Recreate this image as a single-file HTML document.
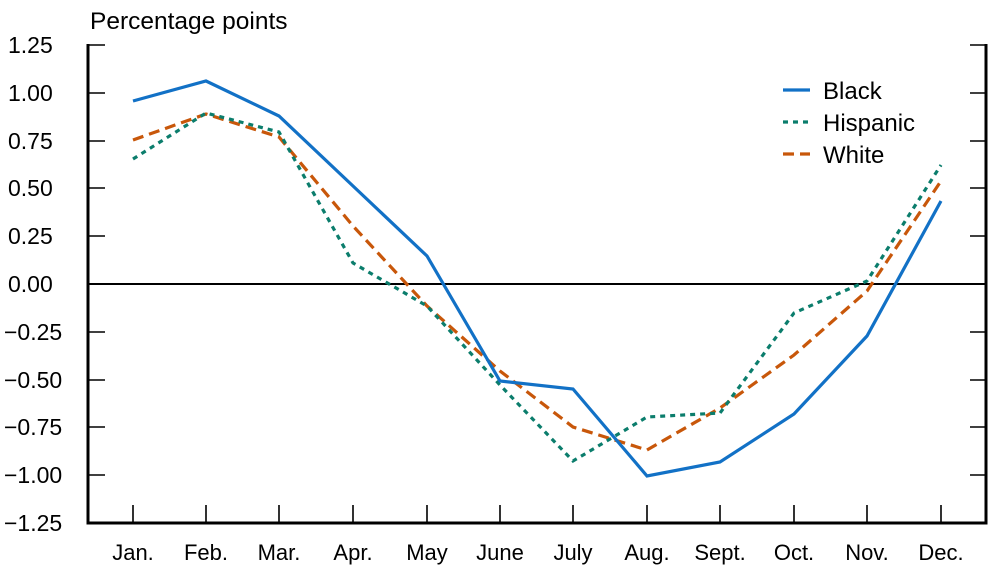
<!DOCTYPE html>
<html><head><meta charset="utf-8"><style>body{margin:0;background:#fff}svg{display:block}text{font-family:"Liberation Sans",Arial,sans-serif;fill:#000}</style></head><body>
<svg width="1000" height="570" viewBox="0 0 1000 570">
<text x="90" y="29" font-size="24.5">Percentage points</text>
<g stroke="#000" stroke-width="1.6" fill="none">
<path d="M88 45 H105 M88 93 H105 M88 141 H105 M88 188 H105 M88 236 H105 M88 332 H105 M88 380 H105 M88 427 H105 M88 475 H105"/>
<path d="M986 45 H970 M986 93 H970 M986 141 H970 M986 188 H970 M986 236 H970 M986 332 H970 M986 380 H970 M986 427 H970 M986 475 H970"/>
<path d="M133 523V505 M206 523V505 M279 523V505 M353 523V505 M427 523V505 M500 523V505 M573 523V505 M647 523V505 M720 523V505 M794 523V505 M867 523V505 M941 523V505"/>
<path d="M88 284 H986" stroke-width="2"/>
<path d="M88 44 V523 H986 V44" stroke-width="3"/>
</g>
<g font-size="23">
<text x="8" y="53">1.25</text><text x="8" y="101">1.00</text><text x="8" y="149">0.75</text><text x="8" y="196">0.50</text><text x="8" y="244">0.25</text><text x="8" y="292">0.00</text><text x="4" y="340">−0.25</text><text x="4" y="388">−0.50</text><text x="4" y="435">−0.75</text><text x="4" y="483">−1.00</text><text x="4" y="531">−1.25</text>
</g>
<g font-size="22" text-anchor="middle">
<text x="133" y="560">Jan.</text><text x="206" y="560">Feb.</text><text x="279" y="560">Mar.</text><text x="353" y="560">Apr.</text><text x="427" y="560">May</text><text x="500" y="560">June</text><text x="573" y="560">July</text><text x="647" y="560">Aug.</text><text x="720" y="560">Sept.</text><text x="794" y="560">Oct.</text><text x="867" y="560">Nov.</text><text x="941" y="560">Dec.</text>
</g>
<g fill="none" stroke-width="3.2">
<polyline stroke="#c8570a" stroke-dasharray="11,6" points="133,140 206,114 279,137 353,226 427,306 500,371 573,427 647,450 720,408 794,355 867,291 941,181"/>
<polyline stroke="#0b7d6c" stroke-dasharray="5,5" points="133,159 206,113 279,132 353,263 427,306 500,385 573,461 647,417 720,413 794,313 867,281 941,165"/>
<polyline stroke="#1271c6" points="133,101 206,81 279,116 353,186 427,256 500,381 573,389 647,476 720,462 794,414 867,336 941,201"/>
<path d="M783 90 H810" stroke="#1271c6"/>
<path d="M783 122 H810" stroke="#0b7d6c" stroke-dasharray="5,5"/>
<path d="M783 154 H810" stroke="#c8570a" stroke-dasharray="11,6"/>
</g>
<g font-size="24"><text x="823" y="99">Black</text><text x="823" y="131">Hispanic</text><text x="823" y="163">White</text></g>
</svg>
</body></html>
